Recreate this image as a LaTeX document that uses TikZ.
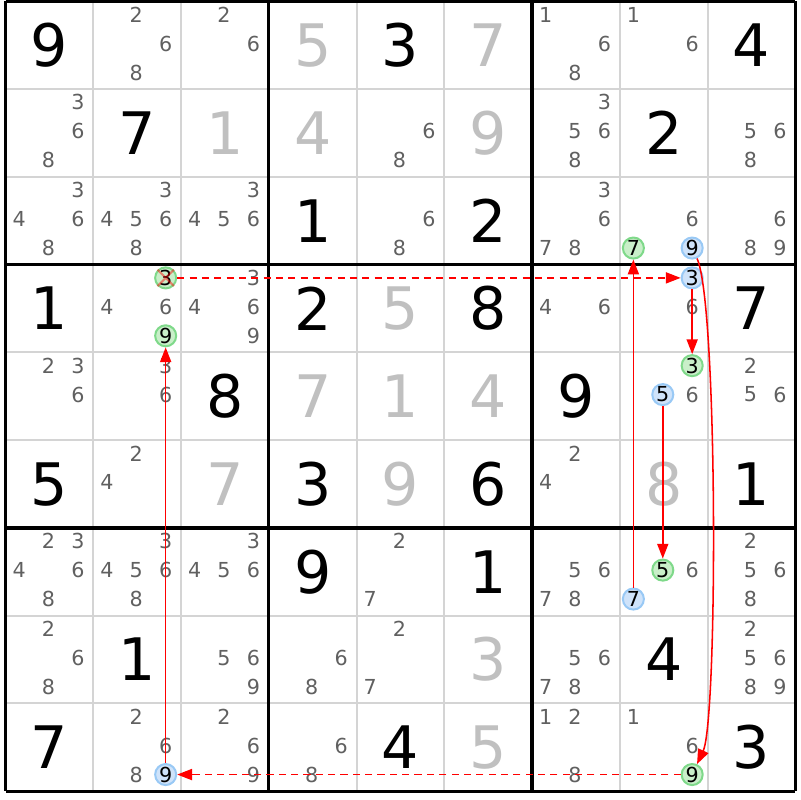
\documentclass[tikz,border=0pt]{standalone}
\usepackage{fontspec}
\setmainfont{DejaVu Sans}
\usetikzlibrary{arrows.meta}
\definecolor{candgray}{HTML}{606060}
\definecolor{solvedgray}{HTML}{C0C0C0}
\definecolor{gridgray}{HTML}{D4D4D4}
\definecolor{bluefill}{HTML}{CFE3FA}
\definecolor{blueline}{HTML}{99C9F5}
\definecolor{greenfill}{HTML}{C9EFC9}
\definecolor{greenline}{HTML}{7FD98A}
\definecolor{linkred}{HTML}{FF0000}
\begin{document}
\begin{tikzpicture}[scale=1.0,
    given/.style={inner sep=0pt,font=\fontsize{19}{19}\selectfont},
    solved/.style={given,text=solvedgray},
    cand/.style={inner sep=0pt,text=candgray,font=\fontsize{6.7}{7}\selectfont},
    blue mark/.style={circle,inner sep=0pt,minimum size=0.24cm,line width=0.65pt,
      draw=blueline,fill=bluefill,font=\fontsize{6.7}{7}\selectfont},
    green mark/.style={blue mark,draw=greenline,fill=greenfill},
    strike/.style={linkred,opacity=0.45,line width=0.7pt},
    link/.style={draw=linkred,line width=0.5pt,-{Triangle[length=4.8pt,width=3.6pt,fill=linkred]}},
    weak link/.style={link,dash pattern=on 2.3pt off 1.7pt}]
\useasboundingbox (-0.063,-9.1) rectangle (9.054,0.017);
\foreach \i in {1,2,4,5,7,8} {
  \draw[gridgray,line width=0.65pt] (\i,0) -- (\i,-9);
  \draw[gridgray,line width=0.65pt] (0,-\i) -- (9,-\i);
}
\foreach \i in {0,3,6,9} {
  \draw[line width=1pt] (\i,0) -- (\i,-9);
  \draw[line width=1pt] (0,-\i) -- (9,-\i);
}
\foreach \r/\c/\d in {1/1/9,1/5/3,1/9/4,2/2/7,2/8/2,3/4/1,3/6/2,4/1/1,4/4/2,4/6/8,4/9/7,
    5/3/8,5/7/9,6/1/5,6/4/3,6/6/6,6/9/1,7/4/9,7/6/1,8/2/1,8/8/4,9/1/7,9/5/4,9/9/3}
  \node[given] (v\r\c) at (\c-0.5,-\r+0.5) {\d};
\foreach \r/\c/\d in {1/4/5,1/6/7,2/3/1,2/4/4,2/6/9,4/5/5,5/4/7,5/5/1,5/6/4,6/3/7,
    6/5/9,6/8/8,8/6/3,9/6/5}
  \node[solved] (v\r\c) at (\c-0.5,-\r+0.5) {\d};
\foreach \r/\c/\list in {1/2/{2,6,8},1/3/{2,6},1/7/{1,6,8},1/8/{1,6},
    2/1/{3,6,8},2/5/{6,8},2/7/{3,5,6,8},2/9/{5,6,8},
    3/1/{3,4,6,8},3/2/{3,4,5,6,8},3/3/{3,4,5,6},3/5/{6,8},3/7/{3,6,7,8},3/8/{6},3/9/{6,8,9},
    4/2/{4,6},4/3/{3,4,6,9},4/7/{4,6},4/8/{6},
    5/1/{2,3,6},5/2/{3,6},5/8/{6},5/9/{2,5,6},
    6/2/{2,4},6/7/{2,4},
    7/1/{2,3,4,6,8},7/2/{3,4,5,6,8},7/3/{3,4,5,6},7/5/{2,7},7/7/{5,6,7,8},7/8/{6},7/9/{2,5,6,8},
    8/1/{2,6,8},8/3/{5,6,9},8/4/{6,8},8/5/{2,7},8/7/{5,6,7,8},8/9/{2,5,6,8,9},
    9/2/{2,6,8},9/3/{2,6,9},9/4/{6,8},9/7/{1,2,8},9/8/{1,6}}
  \foreach \d in \list {
    \pgfmathsetmacro\px{\c-1+0.155+0.335*mod(\d-1,3)}
    \pgfmathsetmacro\py{-(\r-1)-0.15-0.33*int((\d-1)/3)}
    \node[cand] (c\r\c\d) at (\px,\py) {\d};
  }
\foreach \r/\c/\d/\kind in {3/8/7/green,3/8/9/blue,4/2/3/green,4/2/9/green,4/8/3/blue,
    5/8/3/green,5/8/5/blue,7/8/5/green,7/8/7/blue,9/8/9/green,9/2/9/blue} {
  \pgfmathsetmacro\px{\c-1+0.155+0.335*mod(\d-1,3)}
  \pgfmathsetmacro\py{-(\r-1)-0.15-0.33*int((\d-1)/3)}
  \node[\kind\space mark] (m\r\c\d) at (\px,\py) {\d};
}
\draw[strike] (m423.north west) -- (m423.south east) (m423.north east) -- (m423.south west);
\draw[weak link] (m423) -- (m483);
\draw[link] (m483) -- (m583);
\draw[link] (m585) -- (m785);
\draw[link] (m787) -- (m387);
\draw[link] (m389) to[out=-65,in=65,looseness=0.25] (m989);
\draw[weak link] (m989) -- (m929);
\draw[link] (m929) -- (m429);
\end{tikzpicture}
\end{document}
